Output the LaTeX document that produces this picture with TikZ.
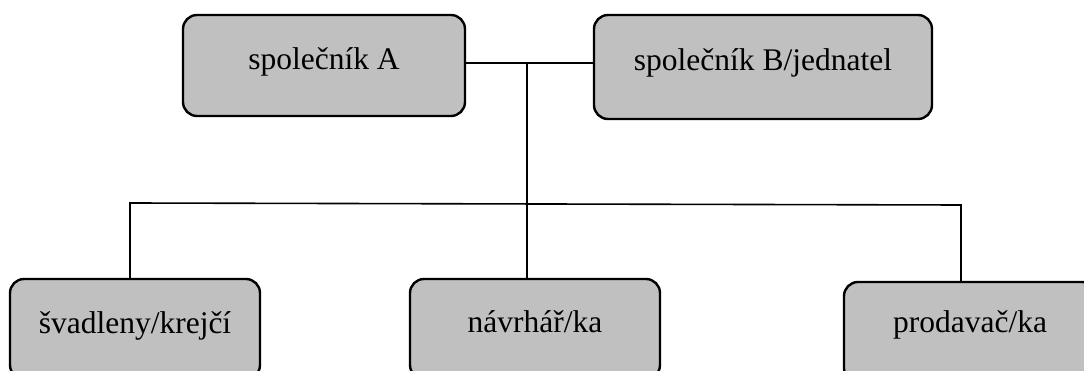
\documentclass[tikz,border=0pt]{standalone}
\usepackage{fontspec}
\setmainfont{Liberation Serif}
\definecolor{boxgray}{RGB}{192,192,192}
\tikzset{
  orgbox/.style={draw=black, fill=boxgray, line width=2.4pt, rounded corners=14pt,
    inner sep=0pt, text depth=12pt, align=center,
    font=\fontsize{31.5}{38}\selectfont},
  conn/.style={draw=black, line width=1.6pt}
}
\begin{document}
\begin{tikzpicture}[x=1pt,y=-1pt]
\clip (0,0) rectangle (1084,371);
\fill[white] (0,0) rectangle (1084,371);
% top boxes
\node[orgbox, minimum width=282pt, minimum height=101pt, text height=21pt] (A) at (324,65.5) {společník A};
\node[orgbox, minimum width=338pt, minimum height=104pt, text height=20pt] (B) at (763,67) {společník B/jednatel};
% bottom boxes
\node[orgbox, minimum width=250pt, minimum height=100pt, text height=20pt] (S) at (135,329) {švadleny/krejčí};
\node[orgbox, minimum width=250pt, minimum height=100pt, text height=18pt] (N) at (535,329) {návrhář/ka};
\node[orgbox, minimum width=252pt, minimum height=100pt, text height=12pt] (P) at (970,332) {prodavač/ka};
% junction points
\coordinate (top) at (527,63);
\coordinate (bl) at (130,203);
\coordinate (br) at (961,205);
% connectors
\draw[conn] (A.east |- top) -- (top) -- (B.west |- top);
\draw[conn] (top) -- (top |- N.north);
\draw[conn] (S.north -| bl) -- (bl) -- (br) -- (P.north -| br);
\end{tikzpicture}
\end{document}
